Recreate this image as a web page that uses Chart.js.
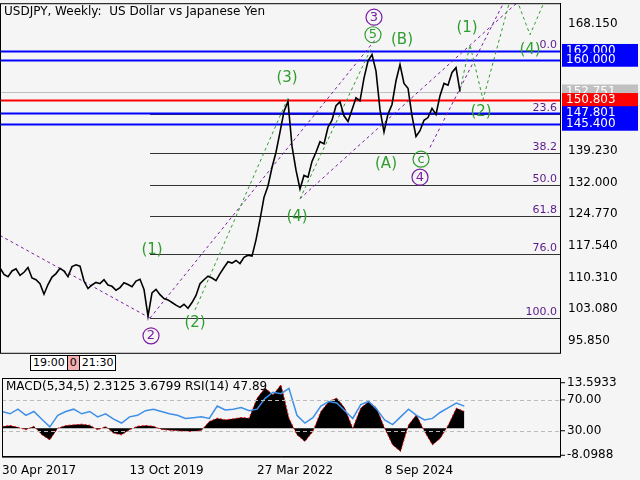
<!DOCTYPE html>
<html><head><meta charset="utf-8">
<script src="https://cdn.jsdelivr.net/npm/chart.js@4"></script>
<style>
body{margin:0;background:#f5f5f5;font-family:"DejaVu Sans",sans-serif;}
#wrap{position:relative;width:640px;height:480px;overflow:hidden}
canvas{position:absolute;left:0;}
#tb{position:absolute;left:30px;top:355px;font-size:11px;height:14px;border:1px solid #000;display:flex;background:#fff}
#tb span{padding:0 2px;border-left:1px solid #000}
</style></head><body>
<div id="wrap">
<canvas id="main" style="top:-7px" width="640" height="370"></canvas>
<canvas id="ind" style="top:370px" width="640" height="110"></canvas>
<div id="tb"><span style="border:0">19:00</span><span style="background:#f4b0b0">0</span><span>21:30</span></div>
</div>
<script>
// Weekly close, one value every 4 weeks, from 30 Apr 2017
const weekStep = 4;
const closes = [112.5,111,110.5,111.8,112.3,110.8,111.5,112.6,110.2,109.8,108.9,106.5,108.7,110.4,111.2,112.4,
  111.8,110.5,112.8,113.2,112.9,109.5,107.8,108.6,109.2,108.9,109.8,108.6,108.3,107.4,108.0,109.1,108.7,108.2,
  109.5,109.9,107.6,101.5,106.8,107.6,106.4,105.5,105.2,104.6,104.0,103.5,104.2,103.3,104.6,106.2,108.9,109.8,
  110.6,110.2,109.6,111.2,112.6,113.9,113.6,114.2,113.5,114.9,115.4,115.2,118.9,123.5,128.6,131.2,135.4,138.9,
  143.5,148.2,150.5,140.3,134.8,130.5,133.6,133.2,136.8,138.9,141.3,140.8,144.6,146.2,149.5,150.4,147.2,145.9,
  148.6,151.3,150.6,155.8,159.7,161.2,157.4,148.6,143.5,147.6,149.8,155.2,158.9,154.6,153.5,147.2,142.5,143.8,
  146.2,146.8,148.9,147.5,151.8,154.6,154.2,157.1,158.2,152.75];
// indicator values, one every 8 weeks
const indStep = 8;
const rsi = [55,52,58,50,55,45,35,50,55,58,52,55,48,52,45,40,48,50,56,58,55,52,50,46,47,48,46,62,57,58,60,56,58,
  72,80,78,85,50,40,47,62,68,66,56,46,64,68,58,44,38,48,58,50,44,46,54,60,66,62];
const macd = [0.5,0.8,0.3,-0.5,0.6,-2,-3.5,0,0.8,1,1.2,0.9,-0.5,0.5,-1.5,-2,-0.5,0.6,0.8,0.6,-0.4,-0.6,-0.8,-0.9,
  -1,-0.7,2,3,2.5,2.8,3.2,3,9,12,10,13,3,-2,-4,-1,5,8,9,6,0,6,8,6,0,-5,-7,1,4,-1,-5,-3,1,6,5];
const priceTicks = [168.15,160.0,152.751,139.23,132.0,124.77,117.54,110.31,103.08,95.85];
const levels = [
  {v:162.0, c:'#0000ff', box:'#0000ff', t:'162.000'},
  {v:160.0, c:'#0000ff', box:'#0000ff', t:'160.000'},
  {v:152.751, c:'#c0c0c0', box:'#c0c0c0', t:'152.751'},
  {v:150.803, c:'#ff0000', box:'#ff0000', t:'150.803'},
  {v:147.801, c:'#0000ff', box:'#0000ff', t:'147.801'},
  {v:145.4, c:'#0000ff', box:'#0000ff', t:'145.400'}];
const fibLevels = [0.0, 23.6, 38.2, 50.0, 61.8, 76.0, 100.0];
const fibHigh = 162.0, fibLow = 101.06, fibStartWeek = 150;
const waveLabels = [
  {w:152,p:116.5,t:'(1)',c:'#2e9e2e'},{w:195,p:100,t:'(2)',c:'#2e9e2e'},{w:287,p:155.7,t:'(3)',c:'#2e9e2e'},
  {w:297,p:124.2,t:'(4)',c:'#2e9e2e'},{w:373,p:165.7,t:'5',c:'#2e9e2e',circ:1},{w:402,p:164.5,t:'(B)',c:'#2e9e2e'},
  {w:386,p:136.2,t:'(A)',c:'#2e9e2e'},{w:421,p:137.3,t:'c',c:'#2e9e2e',circ:1},{w:467,p:167.2,t:'(1)',c:'#2e9e2e'},
  {w:481,p:148,t:'(2)',c:'#2e9e2e'},{w:530,p:162.3,t:'(4)',c:'#2e9e2e'},
  {w:151,p:97,t:'2',c:'#7a1fa2',circ:1},{w:374,p:169.7,t:'3',c:'#7a1fa2',circ:1},{w:420,p:133.2,t:'4',c:'#7a1fa2',circ:1}];
const dashLines = [
  {c:'#7a1fa2',pts:[[0,119.9],[150,101.06]]},
  {c:'#7a1fa2',pts:[[150,101.06],[375,164.5]]},
  {c:'#7a1fa2',pts:[[300,128.3],[520,173.6]]},
  {c:'#7a1fa2',pts:[[430,140],[505,173.6]]},
  {c:'#2e9e2e',pts:[[195,102.9],[289,151.8]]},
  {c:'#2e9e2e',pts:[[300,128.3],[372,163]]},
  {c:'#2e9e2e',pts:[[460,153],[470,163.4],[483,150.9],[510,173.6]]},
  {c:'#2e9e2e',pts:[[517,173.6],[530,165.7],[545,173.6]]}];

const overlay = {
  id:'overlay',
  beforeDatasetsDraw(ch){
    const {ctx, chartArea:a, scales:{x,y}} = ch;
    ctx.save();
    ctx.beginPath(); ctx.rect(a.left,a.top,a.right-a.left,a.bottom-a.top); ctx.clip();
    ctx.font = '11px DejaVu Sans';
    // fibo
    fibLevels.forEach(f=>{
      const yy = Math.round(y.getPixelForValue(fibHigh - (fibHigh-fibLow)*f/100))+0.5;
      ctx.strokeStyle = f===0 ? '#5a1a8a' : '#333'; ctx.lineWidth=1;
      ctx.beginPath(); ctx.moveTo(x.getPixelForValue(fibStartWeek),yy); ctx.lineTo(a.right,yy); ctx.stroke();
      ctx.fillStyle='#5a1a8a'; ctx.textAlign='right'; ctx.fillText(f.toFixed(1), a.right-3, yy-4);
    });
    levels.forEach(l=>{
      const yy = Math.round(y.getPixelForValue(l.v))+0.5;
      ctx.strokeStyle=l.c; ctx.lineWidth = l.c==='#c0c0c0'?1:2;
      ctx.beginPath(); ctx.moveTo(a.left,yy); ctx.lineTo(a.right,yy); ctx.stroke();
    });
    ctx.setLineDash([3,3]); ctx.lineWidth=1;
    dashLines.forEach(d=>{
      ctx.strokeStyle=d.c; ctx.beginPath();
      d.pts.forEach((p,i)=>{const px=x.getPixelForValue(p[0]),py=y.getPixelForValue(p[1]); i?ctx.lineTo(px,py):ctx.moveTo(px,py);});
      ctx.stroke();
    });
    ctx.restore();
  },
  afterDraw(ch){
    const {ctx, chartArea:a, scales:{x,y}} = ch;
    ctx.save();
    ctx.font='15px DejaVu Sans'; ctx.textAlign='center'; ctx.textBaseline='middle';
    waveLabels.forEach(w=>{
      const px=x.getPixelForValue(w.w), py=y.getPixelForValue(w.p);
      ctx.fillStyle=w.c;
      if(w.circ){ ctx.strokeStyle=w.c; ctx.lineWidth=1.2; ctx.beginPath(); ctx.arc(px,py,8,0,Math.PI*2); ctx.stroke();
        ctx.font='13px DejaVu Sans'; ctx.fillText(w.t,px,py); ctx.font='15px DejaVu Sans'; }
      else ctx.fillText(w.t,px,py);
    });
    ctx.font='12px DejaVu Sans'; ctx.textAlign='left';
    levels.forEach(l=>{
      const yy=y.getPixelForValue(l.v);
      ctx.fillStyle=l.box; ctx.fillRect(a.right+2,yy-7,76,14);
      ctx.fillStyle='#fff'; ctx.fillText(l.t,a.right+6,yy);
    });
    ctx.fillStyle='#000'; ctx.font='12px DejaVu Sans';
    ctx.fillText('USDJPY, Weekly:  US Dollar vs Japanese Yen', 4, a.top+9);
    ctx.strokeStyle='#000'; ctx.lineWidth=1; ctx.strokeRect(a.left+0.5,a.top+0.5,a.right-a.left,a.bottom-a.top);
    ctx.restore();
  }
};

new Chart(document.getElementById('main'), {
  type:'line',
  data:{datasets:[{data: closes.map((c,i)=>({x:i*weekStep,y:c})), borderColor:'#000', borderWidth:1.6, pointRadius:0, tension:0}]},
  options:{
    responsive:false, animation:false, layout:{padding:0},
    plugins:{legend:{display:false}, tooltip:{enabled:false}},
    scales:{
      x:{type:'linear', min:0, max:560, display:false},
      y:{position:'right', min:93.13, max:172.9,
        afterFit(s){s.width=80;},
        afterBuildTicks(s){s.ticks = priceTicks.map(v=>({value:v}));},
        grid:{display:false, drawTicks:true, tickLength:5, tickColor:'#000'},
        border:{color:'#000'},
        ticks:{color:'#000', font:{family:'DejaVu Sans',size:12}, padding:3, callback:v=>v.toFixed(3)}}
    }
  },
  plugins:[overlay]
});

const indOverlay = {
  id:'indOverlay',
  afterDraw(ch){
    const {ctx, chartArea:a, scales} = ch;
    const rs = scales.rsi, ms = scales.y;
    ctx.save();
    ctx.setLineDash([4,3]); ctx.strokeStyle='#bbb';
    [70,30].forEach(v=>{const yy=Math.round(rs.getPixelForValue(v))+0.5; ctx.beginPath(); ctx.moveTo(a.left,yy); ctx.lineTo(a.right,yy); ctx.stroke();});
    ctx.setLineDash([]);
    ctx.fillStyle='#000'; ctx.strokeStyle='#000'; ctx.font='12px DejaVu Sans'; ctx.textBaseline='middle';
    ctx.fillText('MACD(5,34,5) 2.3125 3.6799 RSI(14) 47.89', a.left+4, a.top+9);
    ctx.textAlign='left';
    [[13.5933,'13.5933',ms],[70,'70.00',rs],[30,'30.00',rs],[-8.0988,'-8.0988',ms]].forEach(([v,t,s])=>{
      const yy = s.getPixelForValue(v);
      ctx.fillText(t, a.right+7, yy); ctx.beginPath(); ctx.moveTo(a.right,yy); ctx.lineTo(a.right+5,yy); ctx.stroke();
    });
    ctx.strokeRect(a.left+0.5,a.top+0.5,a.right-a.left,a.bottom-a.top);
    ctx.restore();
  }
};

new Chart(document.getElementById('ind'), {
  data:{datasets:[
    {type:'line', data: rsi.map((v,i)=>({x:i*indStep,y:v})), yAxisID:'rsi', borderColor:'#3d8fe8', borderWidth:1.5, pointRadius:0, order:0},
    {type:'line', data: macd.map((v,i)=>({x:i*indStep,y:v})), yAxisID:'y', borderColor:'#ff0000', borderDash:[2,2], borderWidth:1, pointRadius:0, fill:{value:0}, backgroundColor:'#000', order:1}
  ]},
  options:{
    responsive:false, animation:false, layout:{padding:{top:8}},
    plugins:{legend:{display:false}, tooltip:{enabled:false}},
    scales:{
      x:{type:'linear', min:0, max:560, afterBuildTicks(s){s.ticks=[0,128,256,384].map(v=>({value:v}));},
        grid:{display:false, drawTicks:true, tickLength:5, tickColor:'#000'}, border:{color:'#000'},
        ticks:{color:'#000', font:{family:'DejaVu Sans',size:12}, maxRotation:0, align:'start', padding:2,
          callback:(v)=>({0:'30 Apr 2017',128:'13 Oct 2019',256:'27 Mar 2022',384:'8 Sep 2024'})[v]}},
      y:{position:'right', min:-8.5, max:15, display:true, afterFit(s){s.width=80;}, ticks:{display:false}, grid:{display:false}, border:{display:false}},
      rsi:{axis:'y', type:'linear', display:false, min:-3.5, max:98.4}
    }
  },
  plugins:[indOverlay]
});
</script>
</body></html>
